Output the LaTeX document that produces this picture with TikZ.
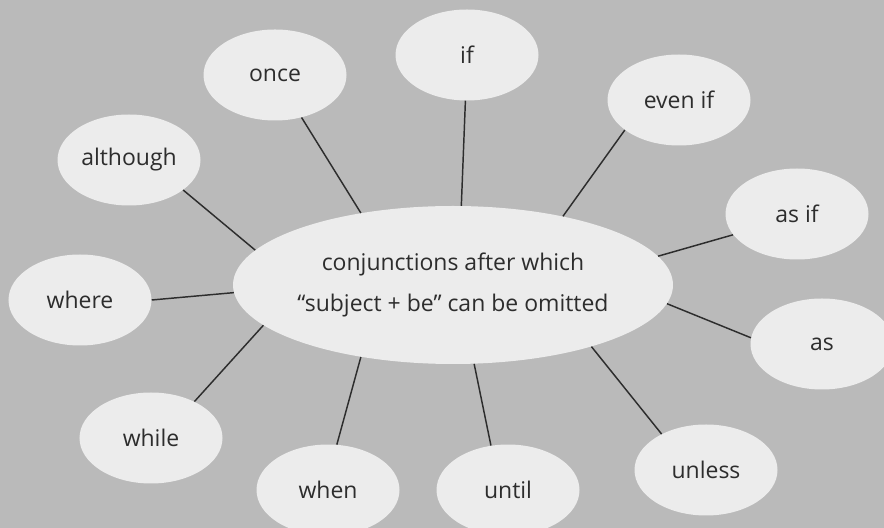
\documentclass[tikz,border=0pt]{standalone}
\usepackage{fontspec}
\setmainfont{Open Sans}
\usetikzlibrary{shapes.geometric}
\definecolor{paper}{RGB}{186,186,186}
\definecolor{bubble}{RGB}{236,236,236}
\definecolor{ink}{RGB}{45,45,45}
\begin{document}
\begin{tikzpicture}[x=1in,y=1in,
  word/.style={ellipse, fill=bubble, draw=none, inner sep=0pt, minimum width=1.4896in, minimum height=0.9479in, text=ink, font=\fontsize{17.3}{31.5}\selectfont},
  hub/.style={word, minimum width=4.4167in, minimum height=1.6458in, align=center},
  spoke/.style={draw=ink, line width=1.1pt}]
\clip (0,0) rectangle (9.2083,5.5000);
\fill[paper] (0,0) rectangle (9.2083,5.5000);
\node[hub] (conj) at (4.7188,2.5313) {conjunctions after which\\``subject + be'' can be omitted};
\node[word] (once) at (2.8646,4.7188) {once};
\node[word] (if) at (4.8646,4.9271) {if};
\node[word] (evenif) at (7.0729,4.4583) {even if};
\node[word] (although) at (1.3438,3.8333) {although};
\node[word] (asif) at (8.3021,3.2708) {as if};
\node[word] (where) at (0.8333,2.3750) {where};
\node[word] (as) at (8.5625,1.9167) {as};
\node[word] (while) at (1.5729,0.9375) {while};
\node[word] (when) at (3.4167,0.3958) {when};
\node[word] (until) at (5.2917,0.3958) {until};
\node[word] (unless) at (7.3542,0.6042) {unless};
\draw[spoke] (once.-58) -- (conj.142);
\draw[spoke] (if.-92) -- (conj.84);
\draw[spoke] (evenif.-151) -- (conj.32);
\draw[spoke] (although.-29) -- (conj.170);
\draw[spoke] (asif.-162) -- (conj.8);
\draw[spoke] (where.0) -- (conj.182);
\draw[spoke] (as.175) -- (conj.-5);
\draw[spoke] (while.40) -- (conj.-168);
\draw[spoke] (when.79) -- (conj.-142);
\draw[spoke] (until.111) -- (conj.-75);
\draw[spoke] (unless.141) -- (conj.-24);
\end{tikzpicture}
\end{document}
